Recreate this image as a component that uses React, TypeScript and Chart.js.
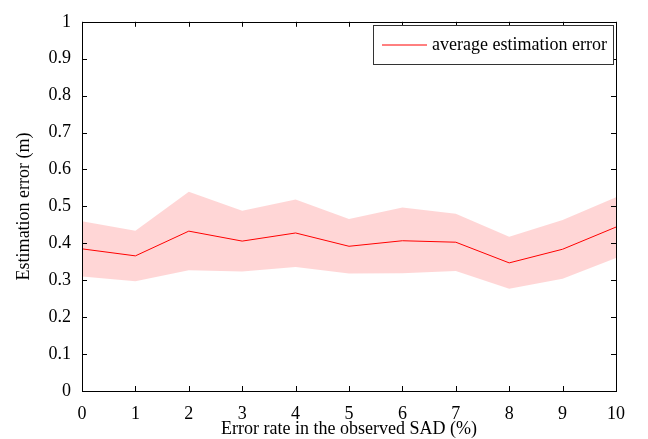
import { useEffect, useRef } from "react"
import { Chart, registerables } from "chart.js"

Chart.register(...registerables)

// values
const errorRates = [0, 1, 2, 3, 4, 5, 6, 7, 8, 9, 10]
const meanError = [0.385, 0.366, 0.433, 0.406, 0.428, 0.392, 0.407, 0.403, 0.347, 0.384, 0.444]
const upperError = [0.46, 0.434, 0.54, 0.488, 0.519, 0.466, 0.497, 0.48, 0.418, 0.463, 0.525]
const lowerError = [0.31, 0.297, 0.327, 0.324, 0.336, 0.318, 0.319, 0.325, 0.277, 0.304, 0.36]
const yTicks = [0, 0.1, 0.2, 0.3, 0.4, 0.5, 0.6, 0.7, 0.8, 0.9, 1]

const serif = "'Liberation Serif', 'Times New Roman', serif"
const fontSize = 18

// box around the plot with inward ticks on all four sides, like matlab
const framePlugin = {
  id: "frame",
  afterDraw(chart: any) {
    const { ctx, chartArea: a, scales } = chart
    const len = 5
    ctx.save()
    ctx.strokeStyle = "#000"
    ctx.lineWidth = 1
    ctx.beginPath()
    for (const v of errorRates) {
      const px = Math.round(scales.x.getPixelForValue(v)) + 0.5
      ctx.moveTo(px, a.bottom)
      ctx.lineTo(px, a.bottom - len)
      ctx.moveTo(px, a.top)
      ctx.lineTo(px, a.top + len)
    }
    for (const v of yTicks) {
      const py = Math.round(scales.y.getPixelForValue(v)) + 0.5
      ctx.moveTo(a.left, py)
      ctx.lineTo(a.left + len, py)
      ctx.moveTo(a.right, py)
      ctx.lineTo(a.right - len, py)
    }
    ctx.stroke()
    ctx.strokeRect(Math.round(a.left) + 0.5, Math.round(a.top) + 0.5, Math.round(a.right - a.left), Math.round(a.bottom - a.top))

    // legend box in the top right corner
    const ds = chart.data.datasets[2]
    const w = 240
    const h = 39
    const x = Math.round(a.right) - 3 - w
    const y = Math.round(a.top) + 3
    ctx.fillStyle = "#fff"
    ctx.fillRect(x, y, w, h)
    ctx.strokeStyle = "#333"
    ctx.strokeRect(x + 0.5, y + 0.5, w, h)
    ctx.strokeStyle = ds.borderColor
    ctx.beginPath()
    ctx.moveTo(x + 9, y + h / 2 + 0.5)
    ctx.lineTo(x + 54, y + h / 2 + 0.5)
    ctx.stroke()
    ctx.fillStyle = "#000"
    ctx.font = `${fontSize}px ${serif}`
    ctx.textBaseline = "middle"
    ctx.fillText(ds.label, x + 59, y + h / 2 + 1)
    ctx.restore()
  },
}

export default function App() {
  const chartRef = useRef<HTMLCanvasElement>(null)
  const chartInstance = useRef<Chart | null>(null)

  useEffect(() => {
    if (!chartRef.current) return
    const ctx = chartRef.current.getContext("2d")
    if (!ctx) return

    document.body.style.margin = "0"

    const toPoints = (vals: number[]) => errorRates.map((x, i) => ({ x, y: vals[i] }))

    chartInstance.current = new Chart(ctx, {
      type: "line",
      data: {
        datasets: [
          {
            label: "upper",
            data: toPoints(upperError),
            borderWidth: 0,
            pointRadius: 0,
            backgroundColor: "rgba(255, 0, 0, 0.16)",
            fill: "+1",
            tension: 0,
          },
          {
            label: "lower",
            data: toPoints(lowerError),
            borderWidth: 0,
            pointRadius: 0,
            fill: false,
            tension: 0,
          },
          {
            label: "average estimation error",
            data: toPoints(meanError),
            borderColor: "#ff0000",
            borderWidth: 1,
            pointRadius: 0,
            fill: false,
            tension: 0,
          },
        ],
      },
      options: {
        animation: false,
        responsive: false,
        layout: { padding: { top: 13, right: 32, left: 0, bottom: 0 } },
        plugins: {
          legend: { display: false },
          tooltip: { enabled: false },
        },
        scales: {
          x: {
            type: "linear",
            min: 0,
            max: 10,
            afterFit: (s: any) => {
              s.height = 48
            },
            afterBuildTicks: (s: any) => {
              s.ticks = errorRates.map((v) => ({ value: v }))
            },
            grid: { display: false, drawTicks: false },
            border: { display: false },
            ticks: {
              color: "#000",
              padding: 12,
              font: { family: serif, size: fontSize },
              callback: (v: any) => String(v),
            },
            title: {
              display: true,
              text: "Error rate in the observed SAD (%)",
              color: "#000",
              font: { family: serif, size: fontSize },
              padding: { top: 0, bottom: -1 },
            },
          },
          y: {
            min: 0,
            max: 1,
            afterFit: (s: any) => {
              s.width = 82
            },
            afterBuildTicks: (s: any) => {
              s.ticks = yTicks.map((v) => ({ value: v }))
            },
            grid: { display: false, drawTicks: false },
            border: { display: false },
            ticks: {
              color: "#000",
              padding: 11,
              font: { family: serif, size: fontSize },
              callback: (v: any) => String(v),
            },
            title: {
              display: true,
              text: "Estimation error (m)",
              color: "#000",
              font: { family: serif, size: fontSize },
              padding: { top: 13, bottom: 0 },
            },
          },
        },
      },
      plugins: [framePlugin],
    })

    return () => {
      chartInstance.current?.destroy()
    }
  }, [])

  return (
    <div style={{ position: "absolute", left: 0, top: 0, width: 648, height: 439 }}>
      <canvas ref={chartRef} width={648} height={439} style={{ width: 648, height: 439 }} />
    </div>
  )
}
